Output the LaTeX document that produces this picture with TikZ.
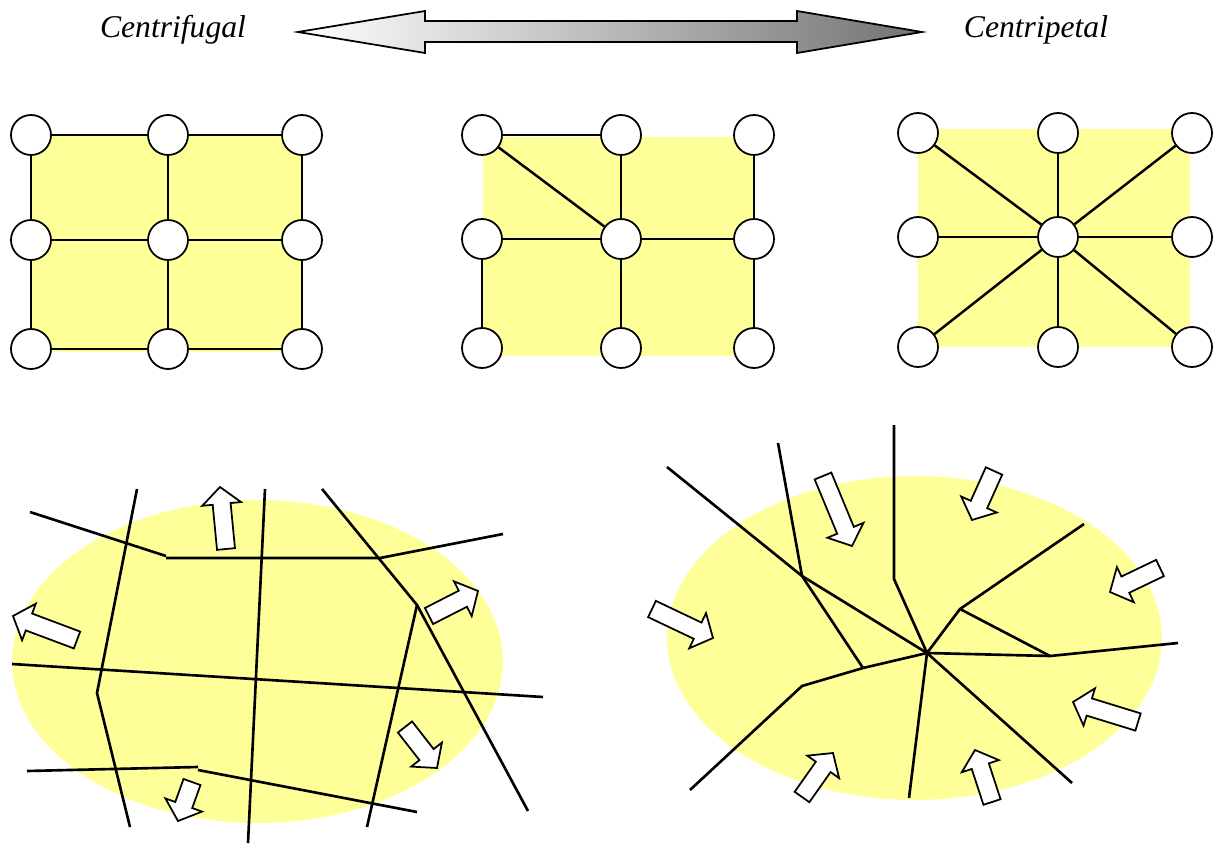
\documentclass[tikz,border=0pt]{standalone}
\usepackage{fontspec}
\setmainfont{Liberation Serif}
\usetikzlibrary{calc}
\definecolor{pale}{RGB}{255,255,153}
\tikzset{
  vert/.style={circle,draw,fill=white,minimum size=0.8cm,inner sep=0pt,line width=1pt},
  link/.style={line width=1.4pt},
  road/.style={line width=1.5pt},
  flow/.style={draw,fill=white,line width=1pt,line join=miter},
  zone/.style={fill=pale},
  heading/.style={font=\itshape\fontsize{18}{21}\selectfont,inner sep=0pt}
}
% block arrow from (#1,#2) to (#3,#4), pixel-like units
\newcommand\flowarrow[4]{%
  \pgfmathsetmacro\faDx{#3-(#1)}%
  \pgfmathsetmacro\faDy{#4-(#2)}%
  \pgfmathsetmacro\faLen{veclen(\faDx,\faDy)}%
  \pgfmathsetmacro\faAng{atan2(-\faDy,\faDx)}%
  \pgfmathsetmacro\faNeck{\faLen-17}%
  \draw[flow,shift={(#1,#2)},rotate=\faAng]
    (0,-9) -- (\faNeck,-9) -- (\faNeck,-19.5) -- (\faLen,0)
    -- (\faNeck,19.5) -- (\faNeck,9) -- (0,9) -- cycle;}
\begin{document}
\begin{tikzpicture}[x=0.02cm,y=-0.02cm]
\useasboundingbox (0,0) rectangle (1219,844);

% scale between the two extremes
\shadedraw[left color=white,right color=black!55,line width=1pt]
  (298,32) -- (425,11) -- (425,21) -- (797,21) -- (797,11) -- (922,32)
  -- (797,53) -- (797,42) -- (425,42) -- (425,53) -- cycle;
\node[heading] (tcf) at (173,30) {Centrifugal};
\node[heading] (tcp) at (1036,30) {Centripetal};

% ---- grid network ----
\fill[zone] (31,135) rectangle (302,352);
\foreach \c/\x in {a/31,b/168,c/302}
  \foreach \r/\y in {1/135,2/240,3/349}
    \node[vert] (p\c\r) at (\x,\y) {};
\foreach \u/\v in {a1/b1,b1/c1,a2/b2,b2/c2,a3/b3,b3/c3,
                   a1/a2,a2/a3,b1/b2,b2/b3,c1/c2,c2/c3}
  \draw[link] (p\u) -- (p\v);

% ---- mixed network ----
\fill[zone] (483,137) rectangle (755,356);
\foreach \c/\x in {a/482,b/621,c/754}
  \foreach \r/\y in {1/135,2/239,3/348}
    \node[vert] (q\c\r) at (\x,\y) {};
\foreach \u/\v in {a1/b1,a1/b2,b1/b2,a2/b2,b2/c2,b2/b3,a2/a3,c1/c2,c2/c3}
  \draw[link] (q\u) -- (q\v);

% ---- star network ----
\fill[zone] (918,129) rectangle (1190,347);
\foreach \c/\x in {a/918,b/1058,c/1192}
  \foreach \r/\y in {1/133,2/237,3/347}
    \node[vert] (s\c\r) at (\x,\y) {};
\foreach \v in {a1,b1,c1,a2,c2,a3,b3,c3}
  \draw[link] (sb2) -- (s\v);

% ---- outward-growing city ----
\fill[zone] (257.5,661.5) ellipse [x radius=4.91cm,y radius=3.23cm];
\draw[road] (30,512) -- (166,556);
\draw[road] (166,558) -- (380,558) -- (503,534);
\draw[road] (137,489) -- (97,693) -- (130,827);
\draw[road] (265,489) -- (248,843);
\draw[road] (322,489) -- (417,605) -- (528,811);
\draw[road] (417,605) -- (367,827);
\draw[road] (12,664) -- (543,697);
\draw[road] (27,771) -- (198,767);
\draw[road] (198,770) -- (417,812);
\flowarrow{226}{549}{220}{487}
\flowarrow{77}{640}{13}{616}
\flowarrow{192}{782}{178}{821}
\flowarrow{429}{616}{478}{591}
\flowarrow{405}{727}{437}{768}

% ---- inward-converging city ----
\fill[zone] (914.5,638) ellipse [x radius=4.95cm,y radius=3.24cm];
\coordinate (hub) at (927,653);
\coordinate (k1) at (802,576);
\coordinate (k2) at (863,668);
\coordinate (k3) at (960,609);
\coordinate (k4) at (1050,656);
\draw[road] (667,467) -- (k1) -- (hub);
\draw[road] (778,443) -- (k1) -- (k2);
\draw[road] (894,425) -- (894,579) -- (hub);
\draw[road] (690,790) -- (802,686) -- (k2) -- (hub);
\draw[road] (hub) -- (909,798);
\draw[road] (hub) -- (k3) -- (1084,524);
\draw[road] (k3) -- (k4);
\draw[road] (hub) -- (k4) -- (1178,643);
\draw[road] (hub) -- (1072,783);
\flowarrow{823}{476}{852}{546}
\flowarrow{652}{609}{713}{638}
\flowarrow{802}{797}{833}{753}
\flowarrow{994}{471}{972}{520}
\flowarrow{1160}{568}{1110}{592}
\flowarrow{1138}{722}{1073}{702}
\flowarrow{992}{802}{975}{750}
\end{tikzpicture}
\end{document}
